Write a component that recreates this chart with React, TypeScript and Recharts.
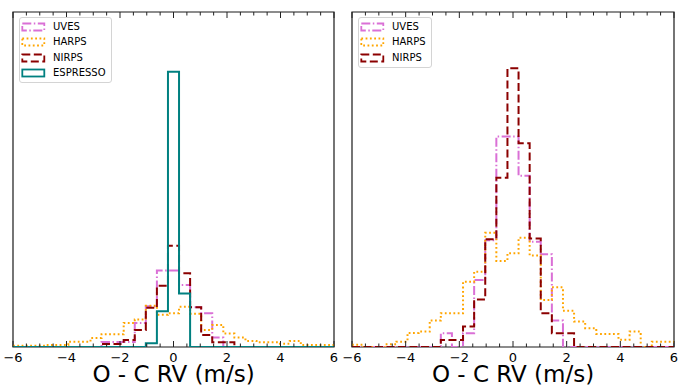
import React from 'react';
import { ComposedChart, Line, XAxis, YAxis, ReferenceArea, Legend } from 'recharts';

const RANGE: [number, number] = [-6, 6];
const N_BINS = 29;

const majorTicks = [-6, -4, -2, 0, 2, 4, 6];
const tickLabels = ['\u22126', '\u22124', '\u22122', '0', '2', '4', '6'];
const minorTicks = [
  -6, -5.5, -5, -4.5, -4, -3.5, -3, -2.5, -2, -1.5, -1, -0.5, 0,
  0.5, 1, 1.5, 2, 2.5, 3, 3.5, 4, 4.5, 5, 5.5, 6,
];

// bin heights (fraction of the y axis), 29 bins over [-6, 6]
const uvesLeft = [0, 0, 0, 0, 0, 0, 0, 0, 0.015, 0.015, 0.015, 0.072, 0.122, 0.228, 0.228, 0.185, 0.119, 0.101, 0.028, 0, 0, 0, 0, 0, 0, 0, 0, 0, 0];
const harpsLeft = [0.004, 0.004, 0.004, 0.006, 0.006, 0.016, 0.016, 0.027, 0.038, 0.038, 0.072, 0.082, 0.123, 0.096, 0.101, 0.12, 0.099, 0.051, 0.066, 0.04, 0.028, 0.018, 0.014, 0.014, 0.01, 0.018, 0.006, 0.006, 0.006];
const nirpsLeft = [0, 0, 0, 0, 0, 0, 0, 0, 0.009, 0.009, 0.021, 0.051, 0.117, 0.183, 0.302, 0.22, 0.119, 0.036, 0.014, 0.014, 0, 0, 0, 0, 0, 0, 0, 0, 0];
const espressoLeft = [0, 0, 0, 0, 0, 0, 0, 0, 0, 0, 0, 0, 0.011, 0.107, 0.822, 0.16, 0, 0, 0, 0, 0, 0, 0, 0, 0, 0, 0, 0, 0];

const uvesRight = [0, 0, 0, 0, 0, 0, 0, 0, 0.041, 0, 0.041, 0.2, 0.319, 0.628, 0.628, 0.511, 0.314, 0.277, 0.079, 0, 0, 0, 0, 0, 0, 0, 0, 0, 0];
const harpsRight = [0.007, 0, 0, 0.008, 0.016, 0.042, 0.046, 0.079, 0.101, 0.101, 0.195, 0.225, 0.341, 0.257, 0.28, 0.326, 0.273, 0.14, 0.178, 0.108, 0.076, 0.056, 0.039, 0.039, 0.022, 0.046, 0, 0.016, 0.016];
const nirpsRight = [0, 0, 0, 0, 0, 0, 0, 0, 0.021, 0.021, 0.061, 0.142, 0.322, 0.505, 0.832, 0.608, 0.324, 0.101, 0.041, 0.041, 0, 0, 0, 0, 0, 0, 0, 0, 0];

const FONT = '"DejaVu Sans", Verdana, sans-serif';

const STYLES: Record<string, { name: string; color: string; dash: string }> = {
  uves: { name: 'UVES', color: '#da70d6', dash: '9 2.5 1.5 2.5' },
  harps: { name: 'HARPS', color: '#ffa500', dash: '1.8 2.5' },
  nirps: { name: 'NIRPS', color: '#8b0000', dash: '8 3.5' },
  espresso: { name: 'ESPRESSO', color: '#008080', dash: '' },
};

// step histogram: one point per bin edge, last edge repeats last bin
const buildRows = (series: Record<string, number[]>) => {
  const width = (RANGE[1] - RANGE[0]) / N_BINS;
  const rows = [];
  for (let k = 0; k <= N_BINS; k++) {
    const row: Record<string, number> = { x: RANGE[0] + k * width };
    Object.keys(series).forEach(key => {
      row[key] = series[key][Math.min(k, N_BINS - 1)];
    });
    rows.push(row);
  }
  return rows;
};

const BottomTick = (props: any) => {
  const { x, y, payload } = props;
  const i = majorTicks.indexOf(payload.value);
  const major = i >= 0;
  return (
    <g>
      <line x1={x} x2={x} y1={y} y2={y - (major ? 6 : 3.5)} stroke="#222" strokeWidth={1} />
      {major && (
        <text x={x} y={y + 14.5} textAnchor="middle" fontSize={13} fill="#000" fontFamily={FONT}>
          {tickLabels[i]}
        </text>
      )}
    </g>
  );
};

const TopTick = (props: any) => {
  const { x, payload } = props;
  const major = majorTicks.includes(payload.value);
  // axis sits on the top spine (y = 12)
  return <line x1={x} x2={x} y1={12} y2={12 + (major ? 6 : 3.5)} stroke="#222" strokeWidth={1} />;
};

const makeLegend = (keys: string[]) => () => (
  <div
    style={{
      display: 'inline-block',
      border: '1px solid #d4d4d4',
      borderRadius: 3,
      background: 'rgba(255,255,255,0.8)',
      padding: '1px 5.5px 1px 0',
      fontFamily: FONT,
    }}
  >
    {keys.map(k => (
      <div key={k} style={{ height: 15.5, display: 'flex', alignItems: 'center' }}>
        <svg width={33} height={10} style={{ display: 'block' }}>
          <rect x={2.3} y={1.5} width={22} height={7} fill="none" stroke={STYLES[k].color} strokeWidth={1.8} strokeDasharray={STYLES[k].dash || undefined} />
        </svg>
        <span style={{ fontSize: 10, lineHeight: '10px', color: '#000', whiteSpace: 'nowrap' }}>{STYLES[k].name}</span>
      </div>
    ))}
  </div>
);

interface PanelProps {
  series: Record<string, number[]>;
  width: number;
  left: number;
  right: number;
  legendLeft: number;
}

const Panel: React.FC<PanelProps> = ({ series, width, left, right, legendLeft }) => {
  const data = buildRows(series);
  const keys = Object.keys(series);
  return (
    <ComposedChart width={width} height={387} data={data} margin={{ top: 2, right, bottom: 0, left }}>
      <XAxis
        dataKey="x"
        type="number"
        domain={RANGE}
        allowDataOverflow
        ticks={minorTicks}
        interval={0}
        height={40}
        tickSize={0}
        tickMargin={0}
        axisLine={false}
        tickLine={false}
        tick={BottomTick}
        label={{ value: 'O - C RV (m/s)', position: 'insideBottom', offset: 5, fontSize: 23, fill: '#000', fontFamily: FONT }}
      />
      <XAxis
        xAxisId="top"
        orientation="top"
        dataKey="x"
        type="number"
        domain={RANGE}
        allowDataOverflow
        ticks={minorTicks}
        interval={0}
        height={10}
        tickSize={0}
        tickMargin={0}
        axisLine={false}
        tickLine={false}
        tick={TopTick}
      />
      <YAxis hide type="number" domain={[0, 1]} allowDataOverflow />
      {keys.map(k => (
        <Line
          key={k}
          dataKey={k}
          type="stepAfter"
          stroke={STYLES[k].color}
          strokeWidth={2}
          strokeDasharray={STYLES[k].dash || undefined}
          dot={false}
          activeDot={false}
          isAnimationActive={false}
        />
      ))}
      <ReferenceArea x1={RANGE[0]} x2={RANGE[1]} y1={0} y2={1} fill="none" fillOpacity={0} stroke="#1a1a1a" strokeWidth={1.2} ifOverflow="visible" />
      <Legend
        layout="vertical"
        align="center"
        verticalAlign="middle"
        wrapperStyle={{ left: legendLeft, top: 17, width: 'auto' }}
        content={makeLegend(keys)}
      />
    </ComposedChart>
  );
};

export default function App() {
  return (
    <div style={{ position: 'absolute', left: 0, top: 0, width: 684, height: 387, background: '#fff', fontFamily: FONT }}>
      <div style={{ position: 'absolute', left: 0, top: 0 }}>
        <Panel
          series={{ uves: uvesLeft, harps: harpsLeft, nirps: nirpsLeft, espresso: espressoLeft }}
          width={345}
          left={13}
          right={11}
          legendLeft={19}
        />
      </div>
      <div style={{ position: 'absolute', left: 340, top: 0 }}>
        <Panel
          series={{ uves: uvesRight, harps: harpsRight, nirps: nirpsRight }}
          width={344}
          left={12}
          right={10}
          legendLeft={18}
        />
      </div>
    </div>
  );
}
